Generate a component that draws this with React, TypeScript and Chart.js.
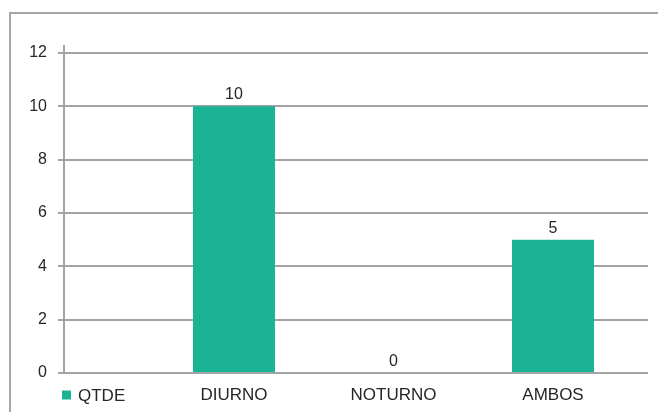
import React, { useEffect, useRef } from "react";
import { Chart, registerables } from "chart.js";

Chart.register(...registerables);

const categories = ["DIURNO", "NOTURNO", "AMBOS"];
const values = [10, 0, 5];
const yTicks = [0, 2, 4, 6, 8, 10, 12];
const seriesLabel = "QTDE";

const BAR_COLOR = "#1bb396";
const GRID_COLOR = "#a3a3a3";
const TEXT_COLOR = "#262626";
const FONT = "'Liberation Sans', Arial, sans-serif";

// Value labels above each bar
const valueLabels = {
  id: "valueLabels",
  afterDatasetsDraw(chart: any) {
    const { ctx } = chart;
    const meta = chart.getDatasetMeta(0);
    ctx.save();
    ctx.font = `16px ${FONT}`;
    ctx.fillStyle = TEXT_COLOR;
    ctx.textAlign = "center";
    ctx.textBaseline = "alphabetic";
    meta.data.forEach((bar: any, i: number) => {
      ctx.fillText(String(values[i]), bar.x, bar.y - 7);
    });
    ctx.restore();
  },
};

// Legend swatch and label on the category-label row
const inlineLegend = {
  id: "inlineLegend",
  afterDraw(chart: any) {
    const { ctx } = chart;
    const ds = chart.data.datasets[0];
    const y = chart.chartArea.bottom + 22;
    ctx.save();
    ctx.fillStyle = ds.backgroundColor;
    ctx.fillRect(62, y - 4.5, 9, 9);
    ctx.font = `17px ${FONT}`;
    ctx.fillStyle = TEXT_COLOR;
    ctx.textAlign = "left";
    ctx.textBaseline = "middle";
    ctx.fillText(ds.label, 78, y + 1);
    ctx.restore();
  },
};

export default function App() {
  const canvasRef = useRef<HTMLCanvasElement>(null);

  useEffect(() => {
    if (!canvasRef.current) return;
    const chart = new Chart(canvasRef.current, {
      type: "bar",
      data: {
        datasets: [
          {
            label: seriesLabel,
            data: values.map((v, i) => ({ x: i + 1, y: v })),
            backgroundColor: BAR_COLOR,
            barPercentage: 0.514,
            categoryPercentage: 1,
          },
        ],
      },
      options: {
        animation: false,
        responsive: false,
        maintainAspectRatio: false,
        layout: { padding: { left: 0, right: 10, top: 46, bottom: 0 } },
        plugins: {
          legend: { display: false },
          tooltip: { enabled: false },
        },
        scales: {
          x: {
            type: "linear",
            min: -0.0658,
            max: 3.5956,
            offset: false,
            afterBuildTicks(scale: any) {
              scale.ticks = [{ value: scale.min }, ...categories.map((_, i) => ({ value: i + 1 }))];
            },
            afterFit(scale: any) {
              scale.height = 39;
            },
            grid: {
              display: true,
              drawOnChartArea: false,
              drawTicks: true,
              tickLength: 6,
              color: (c: any) => (c.index === 0 ? GRID_COLOR : "rgba(0,0,0,0)"),
              lineWidth: 2,
            },
            border: { display: false },
            ticks: {
              padding: 6,
              autoSkip: false,
              maxRotation: 0,
              font: { family: FONT, size: 17 },
              color: TEXT_COLOR,
              callback: (v: any) => {
                const i = Math.round(Number(v)) - 1;
                return Number.isInteger(Number(v)) && i >= 0 ? categories[i] : "";
              },
            },
          },
          y: {
            min: 0,
            max: 12.2625,
            afterBuildTicks(scale: any) {
              scale.ticks = yTicks.map((v) => ({ value: v }));
            },
            afterFit(scale: any) {
              scale.width = 64;
            },
            grid: {
              color: GRID_COLOR,
              lineWidth: 2,
              tickLength: 6,
            },
            border: { display: true, color: GRID_COLOR, width: 2 },
            ticks: {
              padding: 11,
              font: { family: FONT, size: 16 },
              color: TEXT_COLOR,
            },
          },
        },
      },
      plugins: [valueLabels, inlineLegend],
    } as any);
    return () => chart.destroy();
  }, []);

  return (
    <div
      style={{
        position: "fixed",
        left: 0,
        top: 0,
        width: 658,
        height: 412,
        overflow: "hidden",
        background: "#fff",
      }}
    >
      <div
        style={{
          position: "absolute",
          left: 9,
          top: 12,
          width: 680,
          height: 440,
          border: "2px solid #a6a6a6",
          boxSizing: "border-box",
        }}
      />
      <canvas
        ref={canvasRef}
        width={658}
        height={412}
        style={{ position: "absolute", left: 0, top: 0, width: 658, height: 412 }}
      />
    </div>
  );
}
